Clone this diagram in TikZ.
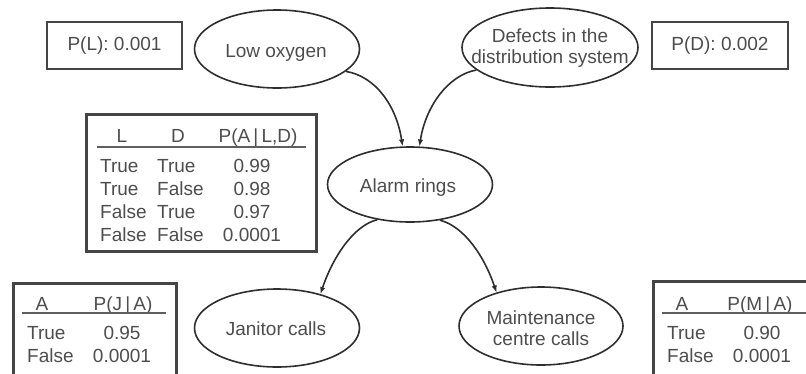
\documentclass[tikz,border=0pt]{standalone}
\usepackage{fontspec}
\setmainfont{Liberation Sans}
\usetikzlibrary{shapes.geometric,arrows.meta}
\definecolor{ink}{HTML}{2e2e2e}
\definecolor{txtgray}{HTML}{4d4d4d}
\definecolor{framegray}{HTML}{454545}
\definecolor{rulegray}{HTML}{5e5e5e}

\begin{document}
\begin{tikzpicture}[x=1pt,y=-1pt,
  every node/.style={font=\fontsize{19}{21}\selectfont, text=txtgray},
  event/.style={ellipse, draw=ink, line width=1.6pt, inner sep=0pt},
  probbox/.style={rectangle, draw=framegray, line width=2.7pt, inner sep=0pt},
  lbl/.style={inner sep=0pt, anchor=base, align=center},
  lblw/.style={inner sep=0pt, anchor=base west},
  hrule/.style={draw=rulegray, line width=2.2pt},
  link/.style={draw=ink, line width=1.6pt, -{Latex[length=7pt,width=5.5pt]}},
]
\useasboundingbox (0,0) rectangle (806,373);
\clip (0,0) rectangle (806,373);

% prior probabilities
\node[probbox, minimum width=135pt, minimum height=47pt] (pl) at (114.5,45.5) {P(L): 0.001};
\node[probbox, minimum width=136pt, minimum height=47pt] (pd) at (720,45.5) {P(D): 0.002};

% events
\node[event, minimum width=165pt, minimum height=78pt] (low) at (277,49) {};
\node[lbl] (lowtxt) at (276,57) {Low oxygen};

\node[event, minimum width=176pt, minimum height=79pt] (def) at (550,47.5) {};
\node[lbl] (deftxt1) at (550,42) {Defects in the};
\node[lbl] (deftxt2) at (550,63) {distribution system};

\node[event, minimum width=165pt, minimum height=75pt] (alarm) at (410,184.5) {};
\node[lbl] (alarmtxt) at (408,192) {Alarm rings};

\node[event, minimum width=165pt, minimum height=78pt] (jan) at (277,328) {};
\node[lbl] (jantxt) at (276,335) {Janitor calls};

\node[event, minimum width=164pt, minimum height=78pt] (mnt) at (541,326) {};
\node[lbl] (mnttxt1) at (541,324) {Maintenance};
\node[lbl] (mnttxt2) at (541,345) {centre calls};

% causal links
\draw[link] (low.-18) .. controls +(30,5) and +(-6,-40) .. (alarm.101);
\draw[link] (def.-163) .. controls +(-28,5) and +(6,-40) .. (alarm.76);
\draw[link] (alarm.-133) .. controls +(-24,6) and +(12,-36) .. (jan.38);
\draw[link] (alarm.-50) .. controls +(24,6) and +(-12,-36) .. (mnt.143);

% conditional table for the alarm
\node[probbox, minimum width=230pt, minimum height=137pt, anchor=north west] (cpta) at (85,113) {};
\node[lbl] (cptaL) at (122,142) {L};
\node[lbl] (cptaD) at (178,142) {D};
\node[lbl] (cptaP) at (258,142) {P(A\,|\,L,D)};
\draw[hrule] ([shift={(12,34)}]cpta.north west) -- ([shift={(-12,34)}]cpta.north east);
\foreach \l/\d/\p [count=\i] in {True/True/0.99, True/False/0.98, False/True/0.97, False/False/0.0001}{
  \node[lblw] (cptal\i) at (100,{148.7+23.3*\i}) {\l};
  \node[lblw] (cptad\i) at (157,{148.7+23.3*\i}) {\d};
  \node[lbl]  (cptap\i) at (252,{148.7+23.3*\i}) {\p};
}

% conditional table for the janitor
\node[probbox, minimum width=163pt, minimum height=120pt, anchor=north west] (cptj) at (12,282) {};
\node[lbl] (cptjA) at (42,310) {A};
\node[lbl] (cptjP) at (123,310) {P(J\,|\,A)};
\draw[hrule] ([shift={(10,31)}]cptj.north west) -- ([shift={(-12,31)}]cptj.north east);
\node[lblw] (cptjt) at (27,339) {True};
\node[lbl]  (cptjtv) at (122,339) {0.95};
\node[lblw] (cptjf) at (27,362) {False};
\node[lbl]  (cptjfv) at (122,362) {0.0001};

% conditional table for the maintenance centre
\node[probbox, minimum width=170pt, minimum height=120pt, anchor=north west] (cptm) at (652,280) {};
\node[lbl] (cptmA) at (682,310) {A};
\node[lbl] (cptmP) at (760,310) {P(M\,|\,A)};
\draw[hrule] ([shift={(10,33)}]cptm.north west) -- ([shift={(-4,33)}]cptm.north east);
\node[lblw] (cptmt) at (667,339) {True};
\node[lbl]  (cptmtv) at (762,339) {0.90};
\node[lblw] (cptmf) at (667,362) {False};
\node[lbl]  (cptmfv) at (762,362) {0.0001};
\end{tikzpicture}
\end{document}
